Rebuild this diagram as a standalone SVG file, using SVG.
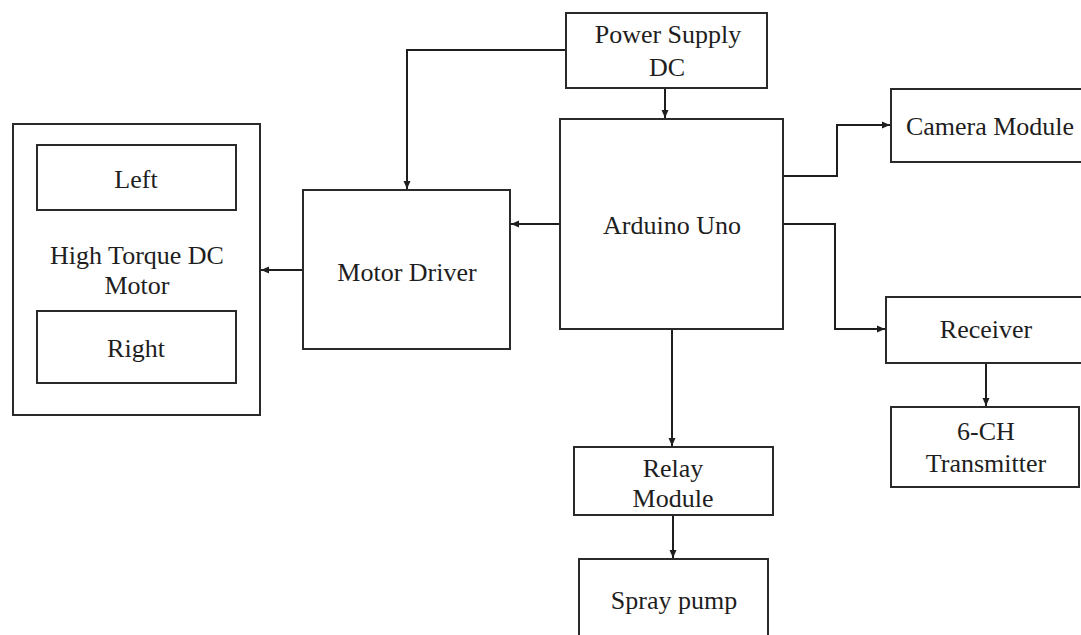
<svg xmlns="http://www.w3.org/2000/svg" width="1081" height="635" viewBox="0 0 1081 635">
<defs>
<style>
.box{fill:#fff;stroke:#2a2a2a;stroke-width:2}
.t{font-family:"Liberation Serif","Times New Roman",serif;font-size:26px;fill:#1e1e1e;text-anchor:middle}
.c{fill:none;stroke:#1e1e1e;stroke-width:2}
</style>
<marker id="ah" markerUnits="userSpaceOnUse" markerWidth="9" markerHeight="8" refX="8" refY="4" orient="auto">
<path d="M0,0.5 L8,4 L0,7.5 z" fill="#1e1e1e"/>
</marker>
</defs>
<rect width="1081" height="635" fill="#fff"/>

<g id="connectors">
<polyline class="c" points="566,50 407,50 407,189" marker-end="url(#ah)"/>
<line class="c" x1="665" y1="88" x2="665" y2="118" marker-end="url(#ah)"/>
<line class="c" x1="560" y1="224" x2="511" y2="224" marker-end="url(#ah)"/>
<line class="c" x1="303" y1="270" x2="261" y2="270" marker-end="url(#ah)"/>
<polyline class="c" points="783,176 837,176 837,125 890,125" marker-end="url(#ah)"/>
<polyline class="c" points="783,224 835,224 835,329 885,329" marker-end="url(#ah)"/>
<line class="c" x1="986" y1="363" x2="986" y2="406" marker-end="url(#ah)"/>
<line class="c" x1="672" y1="329" x2="672" y2="446" marker-end="url(#ah)"/>
<line class="c" x1="673" y1="515" x2="673" y2="558" marker-end="url(#ah)"/>
</g>

<g id="power-supply">
<rect class="box" x="566" y="13" width="201" height="75"/>
<text class="t" x="668" y="43">Power Supply</text>
<text class="t" x="667" y="76">DC</text>
</g>

<g id="arduino">
<rect class="box" x="560" y="119" width="223" height="210"/>
<text class="t" x="672" y="234">Arduino Uno</text>
</g>

<g id="camera">
<rect class="box" x="891" y="89" width="200" height="73"/>
<text class="t" x="990" y="135">Camera Module</text>
</g>

<g id="receiver">
<rect class="box" x="886" y="297" width="205" height="66"/>
<text class="t" x="986" y="338">Receiver</text>
</g>

<g id="transmitter">
<rect class="box" x="891" y="407" width="188" height="80"/>
<text class="t" x="986" y="440">6-CH</text>
<text class="t" x="986" y="472">Transmitter</text>
</g>

<g id="relay">
<rect class="box" x="574" y="447" width="199" height="68"/>
<text class="t" x="673" y="477">Relay</text>
<text class="t" x="673" y="507">Module</text>
</g>

<g id="spray-pump">
<rect class="box" x="579" y="559" width="189" height="90"/>
<text class="t" x="674" y="609">Spray pump</text>
</g>

<g id="motor-driver">
<rect class="box" x="303" y="190" width="207" height="159"/>
<text class="t" x="407" y="281">Motor Driver</text>
</g>

<g id="dc-motor">
<rect class="box" x="13" y="124" width="247" height="291"/>
<text class="t" x="137" y="264">High Torque DC</text>
<text class="t" x="137" y="294">Motor</text>
</g>

<g id="left">
<rect class="box" x="37" y="145" width="199" height="65"/>
<text class="t" x="136" y="188">Left</text>
</g>

<g id="right">
<rect class="box" x="37" y="311" width="199" height="72"/>
<text class="t" x="136" y="357">Right</text>
</g>
</svg>
